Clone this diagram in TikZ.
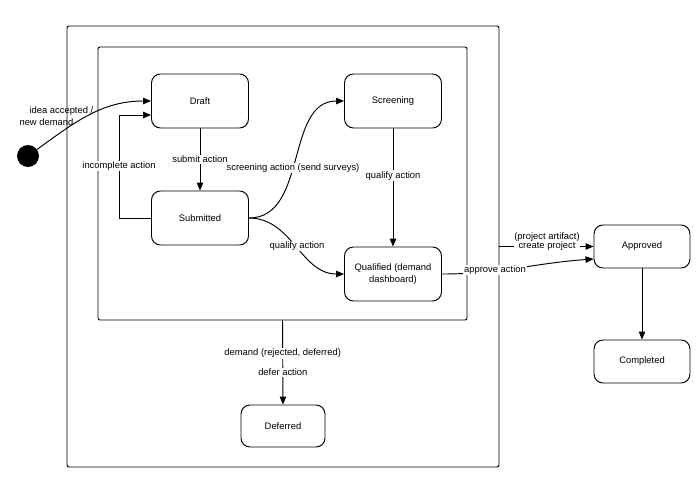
\documentclass[tikz,border=0pt]{standalone}
\usepackage{fontspec}
\setmainfont{Liberation Sans}
\usetikzlibrary{arrows.meta}
\begin{document}
\begin{tikzpicture}[x=1pt,y=-1pt, font=\fontsize{9.4}{11.5}\selectfont,
 state/.style={draw, line width=0.95pt, rounded corners=9pt, minimum width=97pt, minimum height=54pt, inner sep=2pt, align=center},
 frame/.style={draw, line width=0.95pt, rounded corners=2pt, inner sep=0pt},
 tr/.style={line width=0.95pt, -{Triangle[length=8pt,width=6.5pt]}},
 lbl/.style={fill=white, inner sep=1pt, align=center}]
\useasboundingbox (0,0) rectangle (700,496);
% frames
\node[frame, minimum width=432pt, minimum height=441pt] (outer) at (283,246.5) {};
\node[frame, minimum width=369pt, minimum height=273pt] (inner) at (282.5,183.5) {};
% states
\node[state] (draft) at (200,101) {Draft};
\node[state] (scr) at (393,101) {Screening};
\node[state] (sub) at (200,218) {Submitted};
\node[state] (qual) at (393,274) {Qualified (demand\\dashboard)};
\node[state, minimum width=96pt, minimum height=43pt] (appr) at (642,246.5) {Approved};
\node[state, minimum width=96pt, minimum height=43pt] (comp) at (642,361.5) {Completed};
\node[state, minimum width=84pt, minimum height=42pt] (defer) at (283,426) {Deferred};
\node[circle, fill=black, minimum size=22pt, inner sep=0pt] (init) at (28,156) {};
% transitions
\draw[tr] (init) to[out=36,in=180] (draft.west);
\node[anchor=west, align=left] at (16,116) {\hspace*{10pt}idea accepted /\\new demand};
\draw[tr] (draft) -- node[lbl] {submit action} (sub);
\draw[tr] (sub.west) -- ++(-32,0) |- ([yshift=-14pt]draft.west);
\node[lbl] at (119,166) {incomplete action};
\draw[tr] (sub.east) to[out=0,in=180] (scr.west);
\node[lbl] at (293,168) {screening action (send surveys)};
\draw[tr] (sub.east) to[out=0,in=180] (qual.west);
\node[lbl] at (297,246) {qualify action};
\draw[tr] (scr) -- node[lbl, pos=0.4] {qualify action} (qual);
\draw[tr] (qual.east) to[out=0,in=184] ([yshift=-12.5pt]appr.west);
\node[lbl] at (495,270) {approve action};
\draw[tr] (outer.east) -- (appr.west);
\node[lbl, inner sep=0.3pt, font=\fontsize{9.4}{9.5}\selectfont] at (547,241.5) {(project artifact)\\create project};
\draw[tr] (appr) -- (comp);
\draw[tr] (inner.south) -- node[lbl, pos=0.39] {demand (rejected, deferred)} node[lbl, pos=0.62] {defer action} (defer.north);
\end{tikzpicture}
\end{document}
